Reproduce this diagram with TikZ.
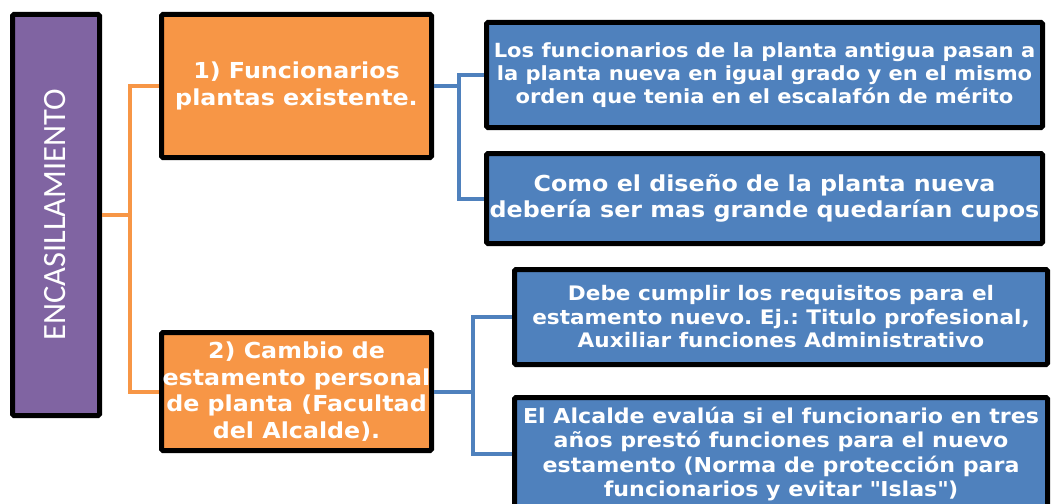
\documentclass[tikz,border=0pt]{standalone}
\usepackage{fontspec}
\setmainfont{DejaVu Sans}[FakeStretch=1.08]
\newfontfamily\calib{Carlito}
\definecolor{cpurple}{HTML}{8064A2}
\definecolor{corange}{HTML}{F79646}
\definecolor{cblue}{HTML}{4F81BD}
\frenchspacing
\begin{document}
\begin{tikzpicture}[x=1pt,y=-1pt,
  box/.style={draw=black,line width=5pt,rounded corners=1.5pt,text=white,align=center,inner sep=0pt,font=\bfseries},
  orangebox/.style={box,fill=corange,minimum width=270pt},
  bluebox/.style={box,fill=cblue},
  oline/.style={draw=corange,line width=4pt},
  bline/.style={draw=cblue,line width=4pt}]
\useasboundingbox (0,0) rectangle (1051,503);
\node[box,fill=cpurple,minimum width=87pt,minimum height=401pt] (p) at (56,215) {};
\node[rotate=90,text=white,font=\calib\fontsize{32.5}{38}\selectfont] (pt) at (55,215) {ENCASILLAMIENTO};
\node[orangebox,minimum height=143pt,font=\bfseries\fontsize{22}{27}\selectfont] (o1) at (296.5,86) {1) Funcionarios\\plantas existente.};
\node[orangebox,minimum height=118pt,font=\bfseries\fontsize{22}{26.7}\selectfont] (o2) at (296.5,391.5) {2) Cambio de\\estamento personal\\de planta (Facultad\\del Alcalde).};
\node[bluebox,minimum width=556pt,minimum height=105pt,font=\bfseries\fontsize{19.5}{22.8}\selectfont] (b1) at (764.5,75) {Los funcionarios de la planta antigua pasan a\\la planta nueva en igual grado y en el mismo\\orden que tenia en el escalafón de mérito};
\node[bluebox,minimum width=556pt,minimum height=90pt,font=\bfseries\fontsize{22}{26}\selectfont] (b2) at (764.5,198.5) {Como el diseño de la planta nueva\\debería ser mas grande quedarían cupos};
\node[bluebox,minimum width=533pt,minimum height=95pt,font=\bfseries\fontsize{20}{23.5}\selectfont] (b3) at (781,317) {Debe cumplir los requisitos para el\\estamento nuevo. Ej.: Titulo profesional,\\Auxiliar funciones Administrativo};
\node[bluebox,minimum width=533pt,minimum height=113pt,font=\bfseries\fontsize{20.5}{24.2}\selectfont] (b4) at (781,454) {El Alcalde evalúa si el funcionario en tres\\años prestó funciones para el nuevo\\estamento (Norma de protección para\\funcionarios y evitar \textquotedbl Islas\textquotedbl)};
% orange connectors
\coordinate (oj) at (130,215);
\draw[oline] (p.east) -- (oj);
\draw[oline] (o1.west) -| (oj) |- (o2.west);
% blue connectors
\coordinate (bj1) at (459,86);
\draw[bline] (o1.east) -- (bj1);
\draw[bline] (b1.west) -| (bj1) |- (b2.west);
\coordinate (bj2) at (473,391.5);
\draw[bline] (o2.east) -- (bj2);
\draw[bline] (b3.west) -| (bj2) |- (b4.west);
\end{tikzpicture}
\end{document}
